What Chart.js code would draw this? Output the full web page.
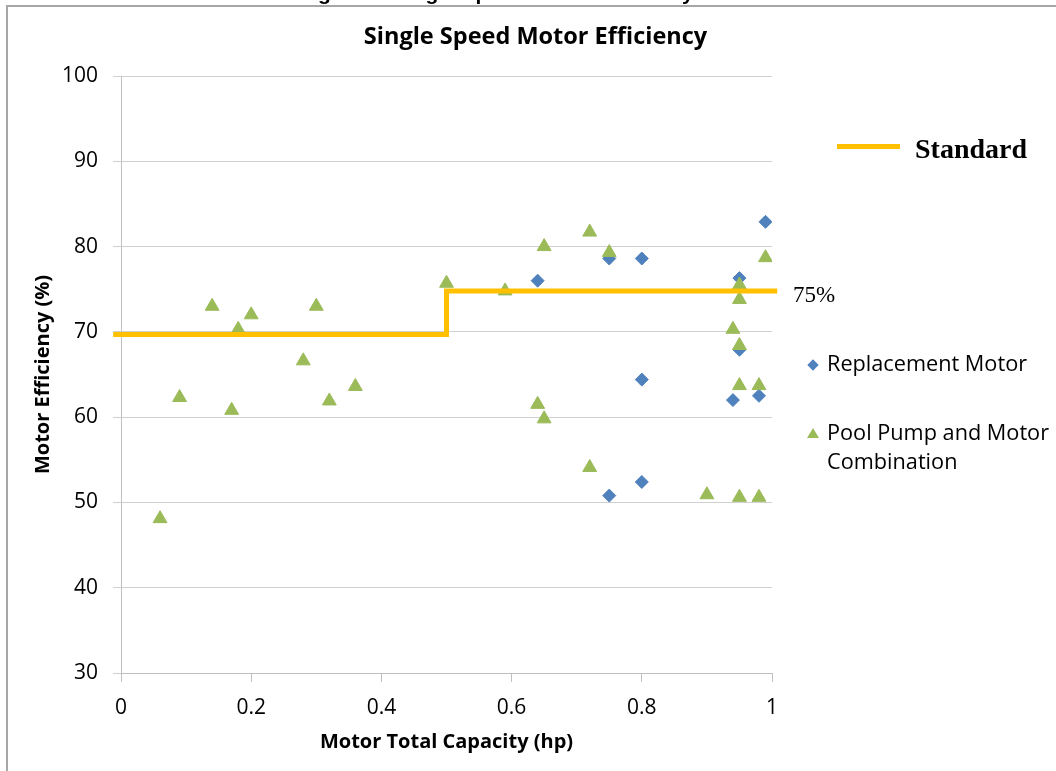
<!DOCTYPE html>
<html>
<head>
<meta charset="utf-8">
<script src="https://cdn.jsdelivr.net/npm/chart.js@4.4.0/dist/chart.umd.min.js"></script>
<style>
  html, body { margin: 0; padding: 0; background: #fff; }
  #wrap { position: relative; width: 1056px; height: 771px; overflow: hidden; font-family: "Open Sans", sans-serif; color: #000; }
  #frame { position: absolute; left: 6px; top: 5px; width: 1100px; height: 800px; border-left: 2px solid #a6a6a6; border-top: 2px solid #a6a6a6; }
  #chart { position: absolute; left: 0; top: 0; }
  .txt { position: absolute; white-space: nowrap; line-height: 1; }
  #caption { left: 0; width: 1090px; text-align: center; top: -19px; font: bold 21px "Liberation Sans", sans-serif; }
  #title { left: 0; width: 1071px; text-align: center; top: 24px; font-weight: bold; font-size: 23.5px; }
  #pct { left: 793px; top: 282px; font: 23px "Liberation Serif", serif; }
  #stdLine { position: absolute; left: 837px; top: 144px; width: 63px; height: 5px; background: #ffc000; }
  #stdText { left: 915px; top: 133px; font: bold 28px "Liberation Serif", serif; }
  .leg { left: 827px; font-size: 21.7px; }
  #diamond { position: absolute; left: 809px; top: 361px; width: 8px; height: 8px; background: #4f81bd; transform: rotate(45deg); }
  #tri { position: absolute; left: 807px; top: 428px; width: 0; height: 0; border-left: 6px solid transparent; border-right: 6px solid transparent; border-bottom: 10px solid #9bbb59; }
</style>
</head>
<body>
<div id="wrap">
  <canvas id="chart" width="1056" height="771"></canvas>
  <div id="frame"></div>
  <div class="txt" id="caption">Figure 6. Single Speed Motor Efficiency Standard</div>
  <div class="txt" id="title">Single Speed Motor Efficiency</div>
  <div class="txt" id="pct">75%</div>
  <div id="stdLine"></div>
  <div class="txt" id="stdText">Standard</div>
  <div id="diamond"></div>
  <div class="txt leg" style="top:352px;">Replacement Motor</div>
  <div id="tri"></div>
  <div class="txt leg" style="top:421px;">Pool Pump and Motor</div>
  <div class="txt leg" style="top:450px;">Combination</div>
</div>
<script>
// values
const replacementX = [0.64, 0.75, 0.75, 0.80, 0.80, 0.80, 0.94, 0.95, 0.95, 0.98, 0.99];
const replacementY = [76.0, 78.6, 50.8, 78.6, 64.4, 52.4, 62.0, 76.3, 67.9, 62.5, 82.9];

const poolX = [0.06, 0.09, 0.14, 0.17, 0.18, 0.20, 0.28, 0.30, 0.32, 0.36, 0.50, 0.59, 0.64, 0.65,
               0.65, 0.72, 0.72, 0.75, 0.90, 0.94, 0.95, 0.95, 0.95, 0.95, 0.95, 0.98, 0.98, 0.99];
const poolY = [48.1, 62.3, 73.0, 60.8, 70.3, 72.0, 66.6, 73.0, 61.9, 63.6, 75.7, 74.8, 61.5, 80.0,
               59.8, 81.7, 54.1, 79.3, 50.9, 70.3, 75.5, 73.8, 68.4, 63.7, 50.6, 63.7, 50.6, 78.7];

const standardX = [-0.012, 0.5, 0.5, 1.008];
const standardY = [69.7, 69.7, 74.8, 74.8];

const xTicks = [0, 0.2, 0.4, 0.6, 0.8, 1];
const xTickLabels = ['0', '0.2', '0.4', '0.6', '0.8', '1'];
const yTicks = [30, 40, 50, 60, 70, 80, 90, 100];

function toPoints(xs, ys) {
    return xs.map((x, i) => ({ x: x, y: ys[i] }));
}

const tickFont = { family: 'Open Sans', size: 21 };
const titleFont = { family: 'Open Sans', size: 20, weight: 'bold' };

new Chart(document.getElementById('chart').getContext('2d'), {
    type: 'scatter',
    data: {
        datasets: [
            {
                label: 'Standard',
                data: toPoints(standardX, standardY),
                showLine: true,
                borderColor: '#ffc000',
                borderWidth: 5,
                pointRadius: 0,
                fill: false,
                clip: false,
                order: 0
            },
            {
                label: 'Pool Pump and Motor Combination',
                data: toPoints(poolX, poolY),
                pointStyle: 'triangle',
                pointRadius: 8,
                backgroundColor: '#9bbb59',
                borderColor: '#9bbb59',
                borderWidth: 1,
                order: 1
            },
            {
                label: 'Replacement Motor',
                data: toPoints(replacementX, replacementY),
                pointStyle: 'rectRot',
                pointRadius: 6.5,
                backgroundColor: '#4f81bd',
                borderColor: '#4f81bd',
                borderWidth: 1,
                order: 2
            }
        ]
    },
    options: {
        responsive: false,
        animation: false,
        layout: { padding: { top: 76, right: 284, left: 0, bottom: 0 } },
        plugins: {
            legend: { display: false },
            title: { display: false },
            tooltip: { enabled: false }
        },
        scales: {
            x: {
                type: 'linear',
                min: 0,
                max: 1,
                afterFit: function(scale) { scale.height = 98; },
                afterBuildTicks: function(scale) {
                    scale.ticks = xTicks.map(v => ({ value: v }));
                },
                grid: { drawOnChartArea: false, drawTicks: true, tickLength: 9, color: '#bfbfbf' },
                border: { color: '#bfbfbf' },
                ticks: {
                    font: tickFont,
                    color: '#000',
                    padding: 13,
                    maxRotation: 0,
                    callback: function(value) {
                        const i = xTicks.indexOf(value);
                        return i >= 0 ? xTickLabels[i] : '';
                    }
                },
                title: {
                    display: true,
                    text: 'Motor Total Capacity (hp)',
                    font: titleFont,
                    color: '#000',
                    padding: { top: 0, bottom: 17 }
                }
            },
            y: {
                type: 'linear',
                min: 30,
                max: 100,
                afterFit: function(scale) { scale.width = 121; },
                afterBuildTicks: function(scale) {
                    scale.ticks = yTicks.map(v => ({ value: v }));
                },
                grid: { color: '#d0d0d0', tickLength: 8, drawTicks: true },
                border: { color: '#bfbfbf' },
                ticks: {
                    font: tickFont,
                    color: '#000',
                    padding: 15
                },
                title: {
                    display: true,
                    text: 'Motor Efficiency (%)',
                    font: titleFont,
                    color: '#000',
                    padding: { top: 31, bottom: 0 }
                }
            }
        }
    }
});
</script>
</body>
</html>
